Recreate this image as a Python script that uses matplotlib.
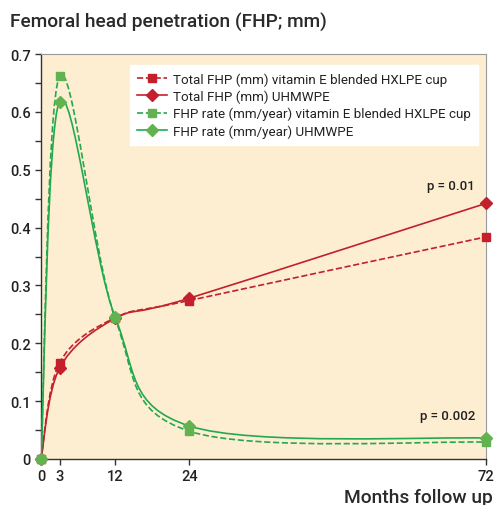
import matplotlib.pyplot as plt
import numpy as np
from matplotlib.path import Path
from matplotlib.patches import PathPatch
from matplotlib.lines import Line2D

months = [0, 3, 12, 24, 72]
total_vite = [0.0, 0.166, 0.244, 0.274, 0.384]
total_uhmwpe = [0.0, 0.157, 0.243, 0.278, 0.442]
rate_vite = [0.0, 0.662, 0.243, 0.048, 0.029]
rate_uhmwpe = [0.0, 0.618, 0.245, 0.057, 0.036]
labels = ["Total FHP (mm) vitamin E blended HXLPE cup",
          "Total FHP (mm) UHMWPE",
          "FHP rate (mm/year) vitamin E blended HXLPE cup",
          "FHP rate (mm/year) UHMWPE"]

red = "#c3202b"
green_line = "#22a94f"
green_mk = "#62b24f"

plt.rcParams['font.family'] = ['Roboto', 'DejaVu Sans']

def smooth_path(x, y):
    # Catmull-Rom style bezier through the points (like spreadsheet smoothed lines)
    p = np.column_stack([x, y]).astype(float)
    n = len(p)
    verts = [p[0]]
    codes = [Path.MOVETO]
    for i in range(n - 1):
        p0 = p[i - 1] if i > 0 else p[i]
        p3 = p[i + 2] if i + 2 < n else p[i + 1]
        c1 = p[i] + (p[i + 1] - p0) / 6
        c2 = p[i + 1] - (p3 - p[i]) / 6
        verts += [c1, c2, p[i + 1]]
        codes += [Path.CURVE4] * 3
    return Path(verts, codes)

fig = plt.figure(figsize=(4.94, 5.06), dpi=100)
ax = fig.add_axes([0.083, 0.091, 0.901, 0.8])
ax.set_facecolor("#fdeed2")

series = [(total_vite, red, red, "--", "s"),
          (total_uhmwpe, red, red, "-", "D"),
          (rate_vite, green_line, green_mk, "--", "s"),
          (rate_uhmwpe, green_line, green_mk, "-", "D")]
handles = []
for (vals, lc, mc, ls, mk), lab in zip(series, labels):
    ax.add_patch(PathPatch(smooth_path(months, vals), fill=False, edgecolor=lc,
                           lw=1.2, ls=ls, zorder=3))
    ax.plot(months, vals, ls="none", marker=mk, color=mc, ms=6 if mk == "s" else 6.5,
            zorder=4, clip_on=False)
    handles.append(Line2D([], [], color=lc, ls=ls, lw=1.2, marker=mk,
                          markerfacecolor=mc, markeredgecolor=mc, ms=6))

ax.set_xlim(0, 72)
ax.set_ylim(0, 0.7)
ax.set_xticks(months)
ax.set_yticks(np.arange(0, 0.71, 0.1))
ax.set_yticklabels(["0", "0.1", "0.2", "0.3", "0.4", "0.5", "0.6", "0.7"])
ax.set_yticks(np.arange(0.05, 0.7, 0.1), minor=True)
ax.tick_params(axis="both", which="both", direction="out", length=4, width=1,
               color="#333333", labelsize=10.5, labelcolor="#222222")
for lab in ax.get_xticklabels() + ax.get_yticklabels():
    lab.set_fontweight("medium")
for s in ["left", "bottom"]:
    ax.spines[s].set_color("#333333")
    ax.spines[s].set_linewidth(1)
for s in ["top", "right"]:
    ax.spines[s].set_color("#999999")
    ax.spines[s].set_linewidth(0.8)

leg = ax.legend(handles, labels, loc="upper left", bbox_to_anchor=(0.185, 0.99),
                frameon=True, fancybox=False, framealpha=1, edgecolor="white",
                fontsize=9.6, handlelength=2.2, labelspacing=0.3, borderpad=0.55,
                handletextpad=0.45)
for t in leg.get_texts():
    t.set_color("#222222")

ax.text(0.975, 0.675, "p = 0.01", transform=ax.transAxes, ha="right", va="center",
        fontsize=9.5, fontweight="medium", color="#222222")
ax.text(0.975, 0.107, "p = 0.002", transform=ax.transAxes, ha="right", va="center",
        fontsize=9.5, fontweight="medium", color="#222222")

fig.text(0.02, 0.955, "Femoral head penetration (FHP; mm)", fontsize=13.8,
         fontweight="medium", color="#2a2a2a", va="center")
fig.text(0.998, 0.015, "Months follow up", fontsize=13.8, fontweight="medium",
         color="#2a2a2a", ha="right", va="center")

fig.savefig("out.png", dpi=100)
